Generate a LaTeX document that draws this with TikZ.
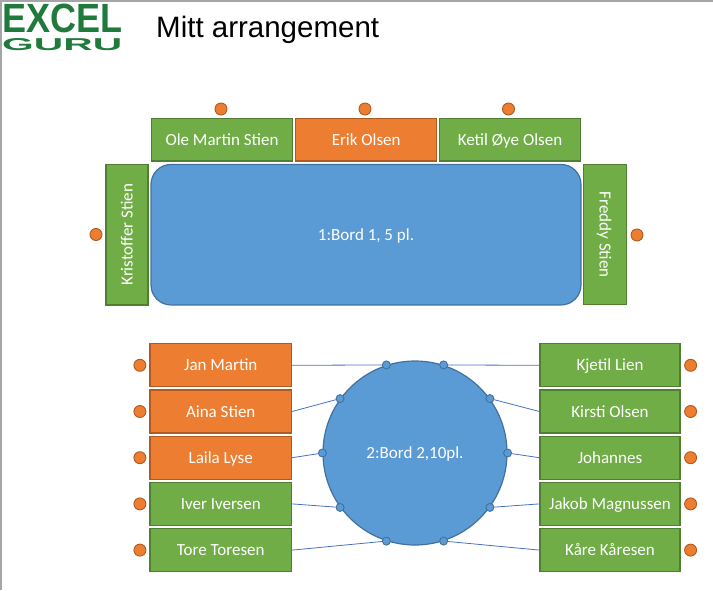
\documentclass[tikz,border=0pt]{standalone}
\usepackage{fontspec}
\setmainfont{Liberation Sans}
\newfontfamily\carl{Carlito}
\definecolor{gfill}{HTML}{70AD47}
\definecolor{gdraw}{HTML}{507E32}
\definecolor{ofill}{HTML}{ED7D31}
\definecolor{odraw}{HTML}{AE5A21}
\definecolor{bfill}{HTML}{5B9BD5}
\definecolor{bdraw}{HTML}{41719C}
\definecolor{lnk}{HTML}{4472C4}
\definecolor{logog}{HTML}{1F7A3C}
\begin{document}
\begin{tikzpicture}[x=1pt,y=-1pt,
  seatbox/.style={line width=1.2pt, inner sep=0pt, text=white,
    font=\carl\fontsize{17}{20}\selectfont, text height=11pt, text depth=0pt, minimum height=43pt},
  gseat/.style={seatbox, fill=gfill, draw=gdraw},
  oseat/.style={seatbox, fill=ofill, draw=odraw},
  odot/.style={circle, fill=ofill, draw=odraw, line width=0.9pt, minimum size=12pt, inner sep=0pt},
  bdot/.style={circle, fill=bfill, draw=bdraw, line width=0.9pt, minimum size=8pt, inner sep=0pt},
  tbl/.style={fill=bfill, draw=bdraw, line width=1.2pt, text=white, inner sep=0pt,
    font=\carl\fontsize{17}{20}\selectfont, text height=11pt, text depth=0pt},
  lnkline/.style={draw=lnk, line width=0.8pt}
]
\useasboundingbox (0,0) rectangle (713,590);
\draw[gray!70, line width=1.5pt] (0.75,590) coordinate (bl) -- (0.75,0.75) coordinate (tl) -- (713,0.75) coordinate (tr);
% logo and title
\node[anchor=north west, inner sep=0pt, text=logog] (excel) at (2,3.5)
  {\resizebox{120pt}{28.5pt}{\bfseries EXCEL}};
\node[anchor=north west, inner sep=0pt, text=logog] (guru) at (2,38)
  {\resizebox{120pt}{12pt}{\bfseries GURU}};
\node[anchor=base west, inner sep=0pt, font=\fontsize{29.5}{34}\selectfont] (title) at (156,37) {Mitt arrangement};
% table 1
\node[tbl, rectangle, rounded corners=20pt, minimum width=430pt, minimum height=140.5pt] (t1) at (366,234.7) {1:Bord 1, 5 pl.};
\node[gseat, minimum width=141pt, minimum height=42.5pt] (ole) at (222,139.7) {Ole Martin Stien};
\node[oseat, minimum width=141pt, minimum height=42.5pt] (erik) at (366.2,139.7) {Erik Olsen};
\node[gseat, minimum width=141pt, minimum height=42.5pt] (ketil) at (510,139.7) {Ketil Øye Olsen};
\node[gseat, minimum width=140.5pt, minimum height=42pt, rotate=90] (krist) at (127,234.7) {Kristoffer Stien};
\node[gseat, minimum width=140pt, minimum height=43pt, rotate=-90] (freddy) at (605.2,234.7) {Freddy Stien};
\node[odot] (d1) at (221,109) {};
\node[odot] (d2) at (365,109) {};
\node[odot] (d3) at (508.5,109) {};
\node[odot] (d4) at (96,234.5) {};
\node[odot] (d5) at (637,235) {};
% table 2
\node[tbl, circle, minimum size=184pt] (t2) at (415,453) {2:Bord 2,10pl.};
\node[oseat, minimum width=141.5pt] (jan) at (220.75,365.3) {Jan Martin};
\node[oseat, minimum width=141.5pt] (aina) at (220.75,411.5) {Aina Stien};
\node[oseat, minimum width=141.5pt] (laila) at (220.75,457.7) {Laila Lyse};
\node[gseat, minimum width=141.5pt] (iver) at (220.75,503.9) {Iver Iversen};
\node[gseat, minimum width=141.5pt] (tore) at (220.75,550.1) {Tore Toresen};
\node[gseat, minimum width=140pt] (kjetil) at (610,365.3) {Kjetil Lien};
\node[gseat, minimum width=140pt] (kirsti) at (610,411.5) {Kirsti Olsen};
\node[gseat, minimum width=140pt] (johannes) at (610,457.7) {Johannes};
\node[gseat, minimum width=140pt] (jakob) at (610,503.9) {Jakob Magnussen};
\node[gseat, minimum width=140pt] (kare) at (610,550.1) {Kåre Kåresen};
\foreach \n in {jan,aina,laila,iver,tore}{
  \node[odot] (l\n) at ([xshift=-9.5pt]\n.west) {};
}
\foreach \n in {kjetil,kirsti,johannes,jakob,kare}{
  \node[odot] (r\n) at ([xshift=10pt]\n.east) {};
}
\foreach \a in {0,36,72,108,144,180,216,252,288,324}{
  \node[bdot] (c\a) at (t2.\a) {};
}
\draw[lnkline] (jan.east) -- (c108);
\draw[lnkline] (aina.east) -- (c144);
\draw[lnkline] (laila.east) -- (c180);
\draw[lnkline] (iver.east) -- (c216);
\draw[lnkline] (tore.east) -- (c252);
\draw[lnkline] (kjetil.west) -- (c72);
\draw[lnkline] (kirsti.west) -- (c36);
\draw[lnkline] (johannes.west) -- (c0);
\draw[lnkline] (jakob.west) -- (c324);
\draw[lnkline] (kare.west) -- (c288);
\end{tikzpicture}
\end{document}
